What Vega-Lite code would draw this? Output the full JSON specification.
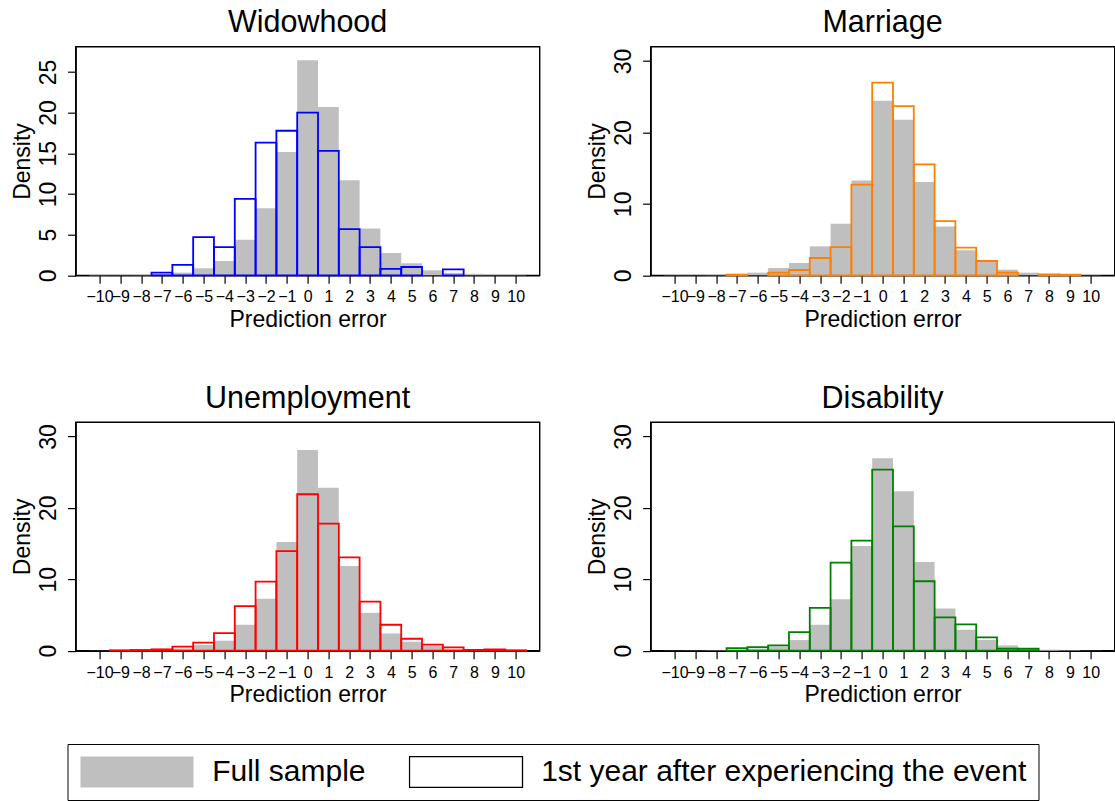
{
  "$schema": "https://vega.github.io/schema/vega-lite/v6.json",
  "padding": {"left": 10.6, "top": 6.7, "right": 0, "bottom": 0},
  "background": "white",
  "config": {
    "font": "Liberation Sans",
    "view": {"stroke": "black", "strokeWidth": 1.4},
    "title": {"fontSize": 30.5, "font": "Liberation Sans", "fontWeight": "normal", "color": "black", "anchor": "middle", "frame": "group", "offset": 8, "baseline": "alphabetic"},
    "axis": {"grid": false, "domainColor": "black", "domainWidth": 1.4, "tickColor": "black", "tickWidth": 1.2, "tickSize": 8, "labelColor": "black", "titleColor": "black", "titleFont": "Liberation Sans", "labelFont": "Liberation Sans", "titleFontWeight": "normal", "labelOverlap": false, "labelFlush": false},
    "axisX": {"labelFontSize": 16, "labelBaseline": "alphabetic", "labelPadding": 18.7, "titleFontSize": 23, "titleBaseline": "alphabetic", "titleX": 232, "titleY": 51},
    "axisY": {"labelFontSize": 23, "labelAngle": 270, "labelAlign": "center", "labelBaseline": "alphabetic", "labelPadding": 11.7, "titleFontSize": 23, "titleAngle": 270, "titleAlign": "center", "titleBaseline": "alphabetic", "titleX": -45.7, "titleY": 114.3},
    "legend": {"orient": "none", "legendX": -8.1, "legendY": 697.3, "direction": "horizontal", "title": null, "symbolType": "M-1,-0.2743H1V0.2743H-1Z", "symbolSize": 12769, "clipHeight": 32, "labelFontSize": 30, "labelFont": "Liberation Sans", "labelColor": "black", "labelOffset": 17.7, "columnPadding": 42, "padding": 12, "strokeColor": "black", "labelLimit": 800}
  },
  "datasets": {
    "h": [
      {"panel":"Widowhood","lo":-10.5,"hi":-9.5,"full":0.04,"event":null},
      {"panel":"Widowhood","lo":-9.5,"hi":-8.5,"full":0.03,"event":null},
      {"panel":"Widowhood","lo":-8.5,"hi":-7.5,"full":0.05,"event":null},
      {"panel":"Widowhood","lo":-7.5,"hi":-6.5,"full":0.12,"event":0.33},
      {"panel":"Widowhood","lo":-6.5,"hi":-5.5,"full":0.33,"event":1.27},
      {"panel":"Widowhood","lo":-5.5,"hi":-4.5,"full":0.86,"event":4.7},
      {"panel":"Widowhood","lo":-4.5,"hi":-3.5,"full":1.76,"event":3.47},
      {"panel":"Widowhood","lo":-3.5,"hi":-2.5,"full":4.37,"event":9.4},
      {"panel":"Widowhood","lo":-2.5,"hi":-1.5,"full":8.25,"event":16.3},
      {"panel":"Widowhood","lo":-1.5,"hi":-0.5,"full":15.15,"event":17.77},
      {"panel":"Widowhood","lo":-0.5,"hi":0.5,"full":26.43,"event":20.0},
      {"panel":"Widowhood","lo":0.5,"hi":1.5,"full":20.7,"event":15.3},
      {"panel":"Widowhood","lo":1.5,"hi":2.5,"full":11.68,"event":5.68},
      {"panel":"Widowhood","lo":2.5,"hi":3.5,"full":5.76,"event":3.47},
      {"panel":"Widowhood","lo":3.5,"hi":4.5,"full":2.74,"event":0.78},
      {"panel":"Widowhood","lo":4.5,"hi":5.5,"full":1.47,"event":1.02},
      {"panel":"Widowhood","lo":5.5,"hi":6.5,"full":0.61,"event":null},
      {"panel":"Widowhood","lo":6.5,"hi":7.5,"full":0.3,"event":0.74},
      {"panel":"Widowhood","lo":7.5,"hi":8.5,"full":0.2,"event":null},
      {"panel":"Widowhood","lo":8.5,"hi":9.5,"full":0.06,"event":null},
      {"panel":"Widowhood","lo":9.5,"hi":10.5,"full":0.03,"event":null},

      {"panel":"Marriage","lo":-10.5,"hi":-9.5,"full":0.03,"event":null},
      {"panel":"Marriage","lo":-9.5,"hi":-8.5,"full":0.03,"event":null},
      {"panel":"Marriage","lo":-8.5,"hi":-7.5,"full":0.05,"event":null},
      {"panel":"Marriage","lo":-7.5,"hi":-6.5,"full":0.15,"event":0.1},
      {"panel":"Marriage","lo":-6.5,"hi":-5.5,"full":0.37,"event":null},
      {"panel":"Marriage","lo":-5.5,"hi":-4.5,"full":1.02,"event":0.37},
      {"panel":"Marriage","lo":-4.5,"hi":-3.5,"full":1.72,"event":0.74},
      {"panel":"Marriage","lo":-3.5,"hi":-2.5,"full":4.05,"event":2.42},
      {"panel":"Marriage","lo":-2.5,"hi":-1.5,"full":7.2,"event":3.95},
      {"panel":"Marriage","lo":-1.5,"hi":-0.5,"full":13.26,"event":12.7},
      {"panel":"Marriage","lo":-0.5,"hi":0.5,"full":24.42,"event":26.98},
      {"panel":"Marriage","lo":0.5,"hi":1.5,"full":21.77,"event":23.67},
      {"panel":"Marriage","lo":1.5,"hi":2.5,"full":13.07,"event":15.53},
      {"panel":"Marriage","lo":2.5,"hi":3.5,"full":6.84,"event":7.58},
      {"panel":"Marriage","lo":3.5,"hi":4.5,"full":3.49,"event":3.86},
      {"panel":"Marriage","lo":4.5,"hi":5.5,"full":1.86,"event":2.0},
      {"panel":"Marriage","lo":5.5,"hi":6.5,"full":0.79,"event":0.37},
      {"panel":"Marriage","lo":6.5,"hi":7.5,"full":0.37,"event":null},
      {"panel":"Marriage","lo":7.5,"hi":8.5,"full":0.19,"event":0.14},
      {"panel":"Marriage","lo":8.5,"hi":9.5,"full":0.07,"event":0.1},
      {"panel":"Marriage","lo":9.5,"hi":10.5,"full":0.03,"event":null},

      {"panel":"Unemployment","lo":-10.5,"hi":-9.5,"full":0.02,"event":null},
      {"panel":"Unemployment","lo":-9.5,"hi":-8.5,"full":0.03,"event":0.06},
      {"panel":"Unemployment","lo":-8.5,"hi":-7.5,"full":0.05,"event":0.1},
      {"panel":"Unemployment","lo":-7.5,"hi":-6.5,"full":0.1,"event":0.19},
      {"panel":"Unemployment","lo":-6.5,"hi":-5.5,"full":0.3,"event":0.56},
      {"panel":"Unemployment","lo":-5.5,"hi":-4.5,"full":0.79,"event":1.12},
      {"panel":"Unemployment","lo":-4.5,"hi":-3.5,"full":1.4,"event":2.47},
      {"panel":"Unemployment","lo":-3.5,"hi":-2.5,"full":3.63,"event":6.23},
      {"panel":"Unemployment","lo":-2.5,"hi":-1.5,"full":7.26,"event":9.67},
      {"panel":"Unemployment","lo":-1.5,"hi":-0.5,"full":15.2,"event":13.95},
      {"panel":"Unemployment","lo":-0.5,"hi":0.5,"full":28.1,"event":21.9},
      {"panel":"Unemployment","lo":0.5,"hi":1.5,"full":22.8,"event":17.8},
      {"panel":"Unemployment","lo":1.5,"hi":2.5,"full":11.86,"event":13.07},
      {"panel":"Unemployment","lo":2.5,"hi":3.5,"full":5.3,"event":6.88},
      {"panel":"Unemployment","lo":3.5,"hi":4.5,"full":2.42,"event":3.63},
      {"panel":"Unemployment","lo":4.5,"hi":5.5,"full":1.26,"event":1.67},
      {"panel":"Unemployment","lo":5.5,"hi":6.5,"full":0.65,"event":0.84},
      {"panel":"Unemployment","lo":6.5,"hi":7.5,"full":0.25,"event":0.47},
      {"panel":"Unemployment","lo":7.5,"hi":8.5,"full":0.1,"event":0.1},
      {"panel":"Unemployment","lo":8.5,"hi":9.5,"full":0.05,"event":0.19},
      {"panel":"Unemployment","lo":9.5,"hi":10.5,"full":0.02,"event":0.06},

      {"panel":"Disability","lo":-10.5,"hi":-9.5,"full":0.02,"event":null},
      {"panel":"Disability","lo":-9.5,"hi":-8.5,"full":0.03,"event":null},
      {"panel":"Disability","lo":-8.5,"hi":-7.5,"full":0.05,"event":null},
      {"panel":"Disability","lo":-7.5,"hi":-6.5,"full":0.12,"event":0.37},
      {"panel":"Disability","lo":-6.5,"hi":-5.5,"full":0.3,"event":0.5},
      {"panel":"Disability","lo":-5.5,"hi":-4.5,"full":0.6,"event":0.74},
      {"panel":"Disability","lo":-4.5,"hi":-3.5,"full":1.49,"event":2.6},
      {"panel":"Disability","lo":-3.5,"hi":-2.5,"full":3.63,"event":6.0},
      {"panel":"Disability","lo":-2.5,"hi":-1.5,"full":7.2,"event":12.33},
      {"panel":"Disability","lo":-1.5,"hi":-0.5,"full":14.65,"event":15.4},
      {"panel":"Disability","lo":-0.5,"hi":0.5,"full":26.93,"event":25.35},
      {"panel":"Disability","lo":0.5,"hi":1.5,"full":22.33,"event":17.4},
      {"panel":"Disability","lo":1.5,"hi":2.5,"full":12.42,"event":9.72},
      {"panel":"Disability","lo":2.5,"hi":3.5,"full":5.9,"event":4.65},
      {"panel":"Disability","lo":3.5,"hi":4.5,"full":2.93,"event":3.67},
      {"panel":"Disability","lo":4.5,"hi":5.5,"full":1.49,"event":1.86},
      {"panel":"Disability","lo":5.5,"hi":6.5,"full":0.74,"event":0.28},
      {"panel":"Disability","lo":6.5,"hi":7.5,"full":0.3,"event":0.28},
      {"panel":"Disability","lo":7.5,"hi":8.5,"full":0.12,"event":null},
      {"panel":"Disability","lo":8.5,"hi":9.5,"full":0.05,"event":null},
      {"panel":"Disability","lo":9.5,"hi":10.5,"full":0.02,"event":null}
    ]
  },
  "columns": 2,
  "spacing": {"row": 146.4, "column": 111},
  "bounds": "flush",
  "concat": [
    {
      "title": "Widowhood",
      "width": 464, "height": 228.6,
      "data": {"name": "h"},
      "transform": [{"filter": "datum.panel === 'Widowhood'"}],
      "encoding": {
        "x": {"field": "lo", "type": "quantitative", "scale": {"domain": [-11.15, 11.15], "nice": false, "zero": false}, "axis": {"values": [-10,-9,-8,-7,-6,-5,-4,-3,-2,-1,0,1,2,3,4,5,6,7,8,9,10], "format": "d", "tickCount": 21}, "title": "Prediction error"},
        "x2": {"field": "hi"},
        "y2": {"datum": 0}
      },
      "layer": [
        {"mark": {"type": "bar", "color": "#bfbfbf"},
         "encoding": {
           "y": {"field": "full", "type": "quantitative", "scale": {"domain": [0, 28.1], "nice": false}, "axis": {"values": [0,5,10,15,20,25]}, "title": "Density"},
           "fill": {"datum": "Full sample", "type": "nominal", "scale": {"domain": ["Full sample", "1st year after experiencing the event"], "range": ["#bfbfbf", "#ffffff"]},
             "legend": {"encode": {"symbols": {"update": {"stroke": {"signal": "datum.value === 'Full sample' ? 'transparent' : 'black'"}, "strokeWidth": {"value": 1.3}, "opacity": {"value": 1}, "fillOpacity": {"value": 1}}}}}}
         }},
        {"mark": {"type": "bar", "fill": "transparent", "stroke": "#0000ff", "strokeWidth": 1.8},
         "encoding": {"y": {"field": "event", "type": "quantitative", "axis": {"values": [0,5,10,15,20,25]}, "title": "Density"}}}
      ]
    },
    {
      "title": "Marriage",
      "width": 464, "height": 228.6,
      "data": {"name": "h"},
      "transform": [{"filter": "datum.panel === 'Marriage'"}],
      "encoding": {
        "x": {"field": "lo", "type": "quantitative", "scale": {"domain": [-11.15, 11.15], "nice": false, "zero": false}, "axis": {"values": [-10,-9,-8,-7,-6,-5,-4,-3,-2,-1,0,1,2,3,4,5,6,7,8,9,10], "format": "d", "tickCount": 21}, "title": "Prediction error"},
        "x2": {"field": "hi"},
        "y2": {"datum": 0}
      },
      "layer": [
        {"mark": {"type": "bar", "color": "#bfbfbf"},
         "encoding": {"y": {"field": "full", "type": "quantitative", "scale": {"domain": [0, 32], "nice": false}, "axis": {"values": [0,10,20,30]}, "title": "Density"}}},
        {"mark": {"type": "bar", "fill": "transparent", "stroke": "#ff7f00", "strokeWidth": 1.8},
         "encoding": {"y": {"field": "event", "type": "quantitative", "axis": {"values": [0,10,20,30]}, "title": "Density"}}}
      ]
    },
    {
      "title": "Unemployment",
      "width": 464, "height": 228.6,
      "data": {"name": "h"},
      "transform": [{"filter": "datum.panel === 'Unemployment'"}],
      "encoding": {
        "x": {"field": "lo", "type": "quantitative", "scale": {"domain": [-11.15, 11.15], "nice": false, "zero": false}, "axis": {"values": [-10,-9,-8,-7,-6,-5,-4,-3,-2,-1,0,1,2,3,4,5,6,7,8,9,10], "format": "d", "tickCount": 21}, "title": "Prediction error"},
        "x2": {"field": "hi"},
        "y2": {"datum": 0}
      },
      "layer": [
        {"mark": {"type": "bar", "color": "#bfbfbf"},
         "encoding": {"y": {"field": "full", "type": "quantitative", "scale": {"domain": [0, 32], "nice": false}, "axis": {"values": [0,10,20,30]}, "title": "Density"}}},
        {"mark": {"type": "bar", "fill": "transparent", "stroke": "#ff0000", "strokeWidth": 1.8},
         "encoding": {"y": {"field": "event", "type": "quantitative", "axis": {"values": [0,10,20,30]}, "title": "Density"}}}
      ]
    },
    {
      "title": "Disability",
      "width": 464, "height": 228.6,
      "data": {"name": "h"},
      "transform": [{"filter": "datum.panel === 'Disability'"}],
      "encoding": {
        "x": {"field": "lo", "type": "quantitative", "scale": {"domain": [-11.15, 11.15], "nice": false, "zero": false}, "axis": {"values": [-10,-9,-8,-7,-6,-5,-4,-3,-2,-1,0,1,2,3,4,5,6,7,8,9,10], "format": "d", "tickCount": 21}, "title": "Prediction error"},
        "x2": {"field": "hi"},
        "y2": {"datum": 0}
      },
      "layer": [
        {"mark": {"type": "bar", "color": "#bfbfbf"},
         "encoding": {"y": {"field": "full", "type": "quantitative", "scale": {"domain": [0, 32], "nice": false}, "axis": {"values": [0,10,20,30]}, "title": "Density"}}},
        {"mark": {"type": "bar", "fill": "transparent", "stroke": "#008000", "strokeWidth": 1.8},
         "encoding": {"y": {"field": "event", "type": "quantitative", "axis": {"values": [0,10,20,30]}, "title": "Density"}}}
      ]
    }
  ]
}
